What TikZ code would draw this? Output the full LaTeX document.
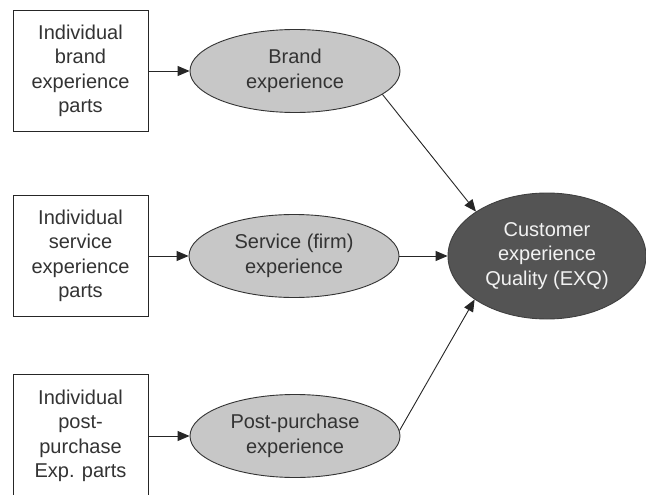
\documentclass[tikz,border=0pt]{standalone}
\usepackage{fontspec}
\setmainfont{Liberation Sans}
\usetikzlibrary{shapes.geometric,arrows.meta}
\tikzset{
  partbox/.style={draw=black!85, line width=1pt, fill=white, minimum width=135pt, minimum height=121pt, inner sep=0pt, align=center, font=\fontsize{20}{24.5}\selectfont, text=black!80},
  expell/.style={ellipse, draw=black!80, line width=0.9pt, fill=black!22, minimum width=210pt, minimum height=83pt, inner sep=0pt, align=center, font=\fontsize{20}{24.5}\selectfont, text=black!80},
  cxqell/.style={ellipse, draw=black!75, line width=0.9pt, fill=black!67, minimum width=198pt, minimum height=126pt, inner sep=0pt, align=center, font=\fontsize{20}{24.5}\selectfont, text=black!5},
  conn/.style={line width=0.9pt, draw=black!85, -{Triangle[length=12pt,width=10pt]}}
}
\begin{document}
\begin{tikzpicture}[x=1pt,y=-1pt]
\clip (0,0) rectangle (646,495);
\fill[white] (0,0) rectangle (646,495);
\node[partbox] (p1) at (80.5,71) {Individual\\brand\\experience\\parts};
\node[partbox] (p2) at (80.5,256) {Individual\\service\\experience\\parts};
\node[partbox, minimum height=124pt] (p3) at (80.5,436) {Individual\\post-\\purchase\\Exp. parts};
\node[expell] (e1) at (295,71) {Brand\\experience};
\node[expell] (e2) at (294,256) {Service (firm)\\experience};
\node[expell] (e3) at (295,436) {Post-purchase\\experience};
\node[cxqell] (c) at (547,256) {Customer\\experience\\Quality (EXQ)};
\draw[conn] (p1) -- (e1);
\draw[conn] (p2) -- (e2);
\draw[conn] (p3) -- (e3);
\draw[conn] (e1.-15) -- (c.148);
\draw[conn] (e2) -- (c);
\draw[conn] (e3.3) -- (c.211);
\end{tikzpicture}
\end{document}
